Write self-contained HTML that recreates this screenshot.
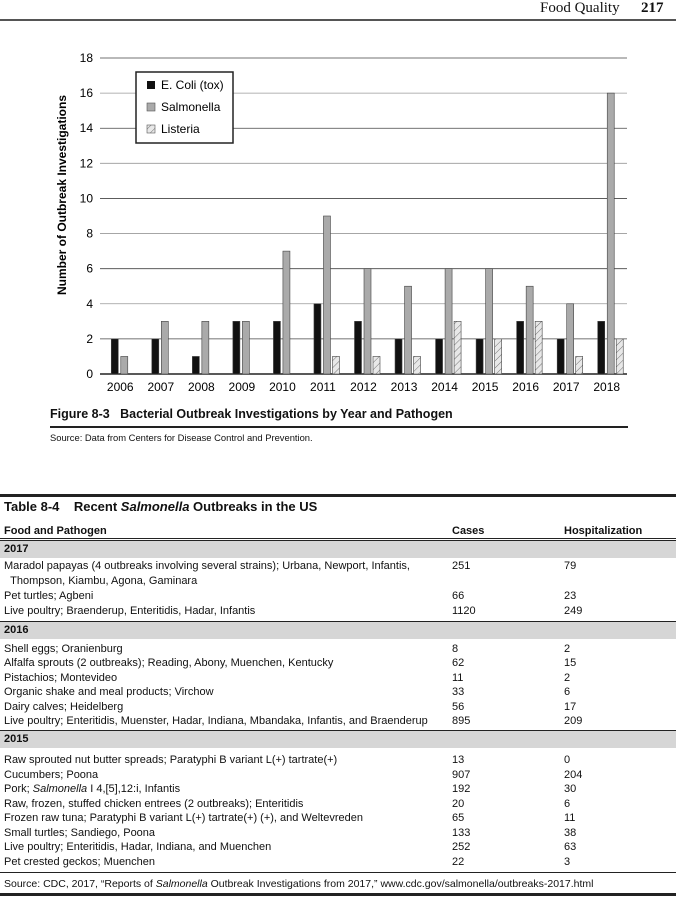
<!DOCTYPE html>
<html><head><meta charset="utf-8"><style>
body{margin:0;width:676px;height:899px;position:relative;background:#fff;font-family:"Liberation Sans",sans-serif;color:#111;overflow:hidden}
.a{position:absolute;white-space:nowrap}
.t{position:absolute;font-size:11px;white-space:nowrap;line-height:12px}
.band{position:absolute;left:0;width:676px;height:17px;background:#d6d6d6;border-top:1.5px solid #222}
.band span{position:absolute;left:4px;top:2px;font-weight:bold;font-size:11px}
</style></head><body>
<div class="a" style="left:540px;top:0px;font-family:'Liberation Serif',serif;font-size:15px">Food Quality</div>
<div class="a" style="left:641px;top:0px;font-family:'Liberation Serif',serif;font-size:15px;font-weight:bold">217</div>
<div class="a" style="left:0;top:19px;width:676px;height:2px;background:#555"></div>

<svg id="chart" width="676" height="410" style="position:absolute;left:0;top:0">
<defs><pattern id="hatch" width="5" height="5" patternUnits="userSpaceOnUse" patternTransform="rotate(45)"><rect width="5" height="5" fill="#e8e8e8"/><line x1="0" y1="0" x2="0" y2="5" stroke="#555" stroke-width="0.8"/></pattern></defs>
<g id="grid"></g><g id="bars"></g><g id="labels"></g>
<text transform="translate(66,195) rotate(-90)" text-anchor="middle" font-size="12" font-weight="bold" font-family="Liberation Sans">Number of Outbreak Investigations</text>
<g>
<rect x="136" y="72" width="97" height="71" fill="#fff" stroke="#222" stroke-width="1.5"/>
<rect x="147" y="81" width="8" height="8" fill="#111"/><text x="161" y="89" font-size="12">E. Coli (tox)</text>
<rect x="147" y="103" width="8" height="8" fill="#aaa" stroke="#555" stroke-width="0.6"/><text x="161" y="111" font-size="12">Salmonella</text>
<rect x="147" y="125" width="8" height="8" fill="url(#hatch)" stroke="#555" stroke-width="0.6"/><text x="161" y="133" font-size="12">Listeria</text>
</g>
</svg>
<div class="a" style="left:50px;top:407px;font-size:12.5px;font-weight:bold">Figure 8-3&nbsp;&nbsp;&nbsp;Bacterial Outbreak Investigations by Year and Pathogen</div>
<div class="a" style="left:50px;top:426px;width:578px;height:1.5px;background:#222"></div>
<div class="a" style="left:50px;top:432px;font-size:9.4px">Source: Data from Centers for Disease Control and Prevention.</div>

<div class="a" style="left:0;top:494px;width:676px;height:2.5px;background:#222"></div>
<div class="a" style="left:4px;top:499px;font-size:13px;font-weight:bold">Table 8-4&nbsp;&nbsp;&nbsp;&nbsp;Recent <i>Salmonella</i> Outbreaks in the US</div>
<div class="t" style="left:4px;top:525px;font-weight:bold;font-size:11px">Food and Pathogen</div>
<div class="t" style="left:452px;top:525px;font-weight:bold;font-size:11px">Cases</div>
<div class="t" style="left:564px;top:525px;font-weight:bold;font-size:11px">Hospitalization</div>
<div id="rows"></div>
<div class="a" style="left:0;top:872px;width:676px;height:1px;background:#222"></div>
<div class="a" style="left:4px;top:878px;font-size:10.5px">Source: CDC, 2017, “Reports of <i>Salmonella</i> Outbreak Investigations from 2017,” www.cdc.gov/salmonella/outbreaks-2017.html</div>
<div class="a" style="left:0;top:893px;width:676px;height:2.5px;background:#222"></div>

<script>
const years=["2006","2007","2008","2009","2010","2011","2012","2013","2014","2015","2016","2017","2018"];
const ecoli=[2,2,1,3,3,4,3,2,2,2,3,2,3];
const salmonella=[1,3,3,3,7,9,6,5,6,6,5,4,16];
const listeria=[0,0,0,0,0,1,1,1,3,2,3,1,2];
const yTicks=[0,2,4,6,8,10,12,14,16,18];
const NS="http://www.w3.org/2000/svg";
const X0=100,X1=627,Y0=374,Y18=58;
const yS=v=>Y0-(Y0-Y18)*v/18;
const band=(X1-X0)/years.length;
const xC=i=>X0+band*(i+0.5);
function mk(t,a,p){const e=document.createElementNS(NS,t);for(const k in a)e.setAttribute(k,a[k]);p.appendChild(e);return e;}
const grid=document.getElementById('grid'),bars=document.getElementById('bars'),labels=document.getElementById('labels');
yTicks.forEach(v=>{
  const l=mk('line',{x1:X0,x2:X1,y1:yS(v),y2:yS(v),stroke:v===0?'#222':(v%4===2&&v>0?'#444':'#999'),'stroke-width':v===0?1.5:0.8},grid);
  
  
  const t=mk('text',{x:93,y:yS(v)+4,'text-anchor':'end','font-size':12},labels);
  t.textContent=v;
  
  
});
years.forEach((y,i)=>{
  const c=xC(i);
  const t=mk('text',{x:c,y:391,'text-anchor':'middle','font-size':12},labels);
  t.textContent=y;
  
  
  [[ecoli,'#111',-9,'ecoli'],[salmonella,'#aaa',0.5,'salmonella'],[listeria,'url(#hatch)',9.5,'listeria']].forEach(([arr,fill,off,nm])=>{
    const v=arr[i]; if(!v)return;
    const r=mk('rect',{x:c+off,y:yS(v),width:7,height:Y0-yS(v),fill:fill,stroke:'#444','stroke-width':0.6},bars);
    
    
  });
});
const rowsEl=document.getElementById('rows');
const table=[
 ["2017",540],
 ["Maradol papayas (4 outbreaks involving several strains); Urbana, Newport, Infantis,","251","79",560],
 ["\u00a0\u00a0Thompson, Kiambu, Agona, Gaminara","","",575],
 ["Pet turtles; Agbeni","66","23",590],
 ["Live poultry; Braenderup, Enteritidis, Hadar, Infantis","1120","249",605],
 ["2016",621],
 ["Shell eggs; Oranienburg","8","2",643],
 ["Alfalfa sprouts (2 outbreaks); Reading, Abony, Muenchen, Kentucky","62","15",657],
 ["Pistachios; Montevideo","11","2",672],
 ["Organic shake and meal products; Virchow","33","6",686],
 ["Dairy calves; Heidelberg","56","17",701],
 ["Live poultry; Enteritidis, Muenster, Hadar, Indiana, Mbandaka, Infantis, and Braenderup","895","209",715],
 ["2015",730],
 ["Raw sprouted nut butter spreads; Paratyphi B variant L(+) tartrate(+)","13","0",754],
 ["Cucumbers; Poona","907","204",769],
 ["Pork; <i>Salmonella</i> I 4,[5],12:i, Infantis","192","30",783],
 ["Raw, frozen, stuffed chicken entrees (2 outbreaks); Enteritidis","20","6",798],
 ["Frozen raw tuna; Paratyphi B variant L(+) tartrate(+) (+), and Weltevreden","65","11",812],
 ["Small turtles; Sandiego, Poona","133","38",827],
 ["Live poultry; Enteritidis, Hadar, Indiana, and Muenchen","252","63",841],
 ["Pet crested geckos; Muenchen","22","3",856]
];
let html='';
table.forEach((r,i)=>{
 if(r.length===2){html+=`<div class="band" style="top:${r[1]}px"><span>${r[0]}</span></div>`;}
 else{html+=`<div class="t" style="left:4px;top:${r[3]}px">${r[0]}</div><div class="t" style="left:452px;top:${r[3]}px">${r[1]}</div><div class="t" style="left:564px;top:${r[3]}px">${r[2]}</div>`;}
});
rowsEl.innerHTML=html;
</script>
<div class="a" style="left:0;top:538px;width:676px;height:1px;background:#222"></div>
</body></html>
